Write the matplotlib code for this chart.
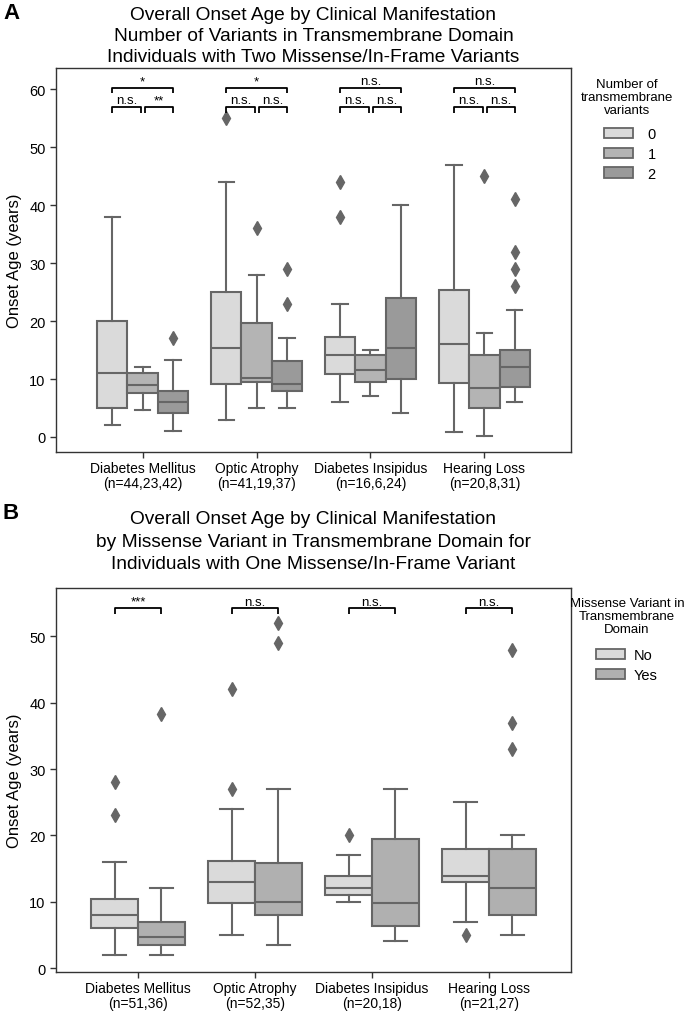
import matplotlib
matplotlib.use("Agg")
import matplotlib.pyplot as plt
from matplotlib.patches import Patch

plt.rcParams['font.family'] = ['Liberation Sans', 'DejaVu Sans']

# ---------------- data ----------------
categories = ["Diabetes Mellitus", "Optic Atrophy", "Diabetes Insipidus", "Hearing Loss"]
n_a = ["44,23,42", "41,19,37", "16,6,24", "20,8,31"]
n_b = ["51,36", "52,35", "20,18", "21,27"]

levels_a = ["0", "1", "2"]
levels_b = ["No", "Yes"]

# Panel A box statistics [category][level]
a_med = [[11, 9, 6], [15.4, 10.1, 9.1], [14.1, 11.6, 15.4], [16.1, 8.5, 12.1]]
a_q1 = [[5, 7.6, 4.1], [9.1, 9.5, 8.0], [10.8, 9.5, 10.05], [9.3, 5.0, 8.6]]
a_q3 = [[20, 11, 8], [25.1, 19.6, 13.1], [17.3, 14.2, 24.0], [25.3, 14.2, 15.0]]
a_lo = [[2, 4.6, 1.1], [3, 5, 5], [6.1, 7.1, 4.1], [0.9, 0.1, 6.1]]
a_hi = [[38, 12, 13.2], [44, 28, 17], [23, 15, 40], [47, 18, 22]]
a_fliers = [[[], [], [17]], [[55], [36], [29, 23]], [[44, 38], [], []],
            [[], [45], [41, 32, 29, 26]]]

# Panel B box statistics [category][level]
b_med = [[8, 4.7], [13, 10], [12, 9.8], [13.9, 12]]
b_q1 = [[6, 3.4], [9.8, 8], [11, 6.3], [13, 8]]
b_q3 = [[10.4, 7], [16.2, 15.9], [13.9, 19.5], [18, 18]]
b_lo = [[2, 2], [5, 3.5], [10, 4], [7, 5]]
b_hi = [[16, 12], [24, 27], [17, 27], [25, 20]]
b_fliers = [[[28, 23], [38.3]], [[42, 27], [52, 49]], [[20], []], [[5], [48, 37, 33]]]

# significance labels
sig_a_top = ["*", "*", "n.s.", "n.s."]
sig_a_low = [["n.s.", "**"], ["n.s.", "n.s."], ["n.s.", "n.s."], ["n.s.", "n.s."]]
sig_b = ["***", "n.s.", "n.s.", "n.s."]

colors_a = ["#dadada", "#b4b4b4", "#9a9a9a"]
colors_b = ["#dadada", "#b0b0b0"]
edge = "#666666"
spine_c = "#333333"

W, H = 685, 1012
fig = plt.figure(figsize=(W / 100, H / 100), dpi=100)


def px_axes(l, t, r, b):
    return fig.add_axes([l / W, 1 - b / H, (r - l) / W, (b - t) / H])


def draw_boxes(ax, med, q1, q3, lo, hi, fliers, colors):
    ncat = len(med)
    nl = len(med[0])
    width = 0.8 / nl
    for i in range(ncat):
        for j in range(nl):
            pos = i - 0.4 + width * (j + 0.5)
            st = dict(med=med[i][j], q1=q1[i][j], q3=q3[i][j],
                      whislo=lo[i][j], whishi=hi[i][j], fliers=fliers[i][j])
            ax.bxp([st], positions=[pos], widths=[width], patch_artist=True,
                   showfliers=True, manage_ticks=False,
                   boxprops=dict(facecolor=colors[j], edgecolor=edge, linewidth=1.5),
                   medianprops=dict(color=edge, linewidth=1.5),
                   whiskerprops=dict(color=edge, linewidth=1.5),
                   capprops=dict(color=edge, linewidth=1.5),
                   flierprops=dict(marker='d', markerfacecolor=edge,
                                   markeredgecolor=edge, markersize=7))


def bracket(ax, x0, x1, y, h, text, fs=9.5):
    ax.plot([x0, x0, x1, x1], [y - h, y, y, y - h], color='black', lw=1.3,
            solid_capstyle='butt')
    ax.text((x0 + x1) / 2, y + 0.1, text, ha='center', va='bottom', fontsize=fs)


def style_axes(ax, labels):
    for s in ax.spines.values():
        s.set_color(spine_c)
        s.set_linewidth(1.0)
    ax.set_xticks(range(len(labels)))
    ax.set_xticklabels(labels, fontsize=10)
    for t in ax.get_xticklabels():
        t.set_linespacing(1.1)
    ax.tick_params(axis='both', colors=spine_c, labelcolor='black', length=4,
                   width=1.0)
    ax.tick_params(axis='x', pad=2.5)
    ax.tick_params(axis='y', labelsize=10.5)
    ax.set_ylabel("Onset Age (years)", fontsize=12, labelpad=5)


def legend(ax, colors, labels, title, left_px, top_px, ax_top_px, title_cx, title_cy,
           textpad):
    ax_h = 384
    leg = ax.legend([Patch(facecolor=c, edgecolor=edge, linewidth=1.3) for c in colors],
                    labels, loc='upper left',
                    bbox_to_anchor=((left_px - 56) / 515,
                                    1 - (top_px - ax_top_px) / ax_h),
                    frameon=False, fontsize=10.5,
                    handlelength=2.0, handleheight=0.7, labelspacing=0.4,
                    handletextpad=textpad, borderaxespad=0, borderpad=0)
    fig.text(title_cx / W, 1 - title_cy / H, title, ha='center', va='center',
             fontsize=9.5, linespacing=1.1, multialignment='center')
    return leg


# ---------------- Panel A ----------------
axA = px_axes(56, 69, 571, 453)
draw_boxes(axA, a_med, a_q1, a_q3, a_lo, a_hi, a_fliers, colors_a)
axA.set_xlim(-0.76, 3.76)
axA.set_ylim(-2.6, 63.7)
axA.set_yticks([0, 10, 20, 30, 40, 50, 60])
style_axes(axA, [f"{c}\n(n={n})" for c, n in zip(categories, n_a)])
w3 = 0.8 / 3
for i in range(len(categories)):
    p0, p1, p2 = i - w3, i, i + w3
    bracket(axA, p0, p2, 60.3, 1.0, sig_a_top[i])
    bracket(axA, p0, p1 - 0.015, 57.0, 1.0, sig_a_low[i][0])
    bracket(axA, p1 + 0.02, p2, 57.0, 1.0, sig_a_low[i][1])

legend(axA, colors_a, levels_a, "Number of\ntransmembrane\nvariants",
       604, 128, 69, 627, 98, 1.0)

axA.text(0.5, 1.0 + 3 / 384, "Overall Onset Age by Clinical Manifestation\n"
         "Number of Variants in Transmembrane Domain\n"
         "Individuals with Two Missense/In-Frame Variants",
         transform=axA.transAxes, ha='center', va='bottom', fontsize=13.8,
         linespacing=1.3, multialignment='center')
fig.text(3 / W, 1 - 3 / H, "A", fontsize=16, fontweight='bold', va='top', ha='left')

# ---------------- Panel B ----------------
axB = px_axes(56, 589, 571, 973)
draw_boxes(axB, b_med, b_q1, b_q3, b_lo, b_hi, b_fliers, colors_b)
axB.set_xlim(-0.70, 3.70)
axB.set_ylim(-0.6, 57.3)
axB.set_yticks([0, 10, 20, 30, 40, 50])
style_axes(axB, [f"{c}\n(n={n})" for c, n in zip(categories, n_b)])
for i in range(len(categories)):
    bracket(axB, i - 0.2, i + 0.2, 54.25, 0.9, sig_b[i])

legend(axB, colors_b, levels_b, "Missense Variant in\nTransmembrane\nDomain",
       596, 649, 589, 627, 617, 0.6)

axB.text(0.5, 1.0 + 16 / 384, "Overall Onset Age by Clinical Manifestation\n"
         "by Missense Variant in Transmembrane Domain for\n"
         "Individuals with One Missense/In-Frame Variant",
         transform=axB.transAxes, ha='center', va='bottom', fontsize=13.8,
         linespacing=1.42, multialignment='center')
fig.text(3 / W, 1 - 503 / H, "B", fontsize=16, fontweight='bold', va='top', ha='left')

fig.savefig("out.png", dpi=100)
